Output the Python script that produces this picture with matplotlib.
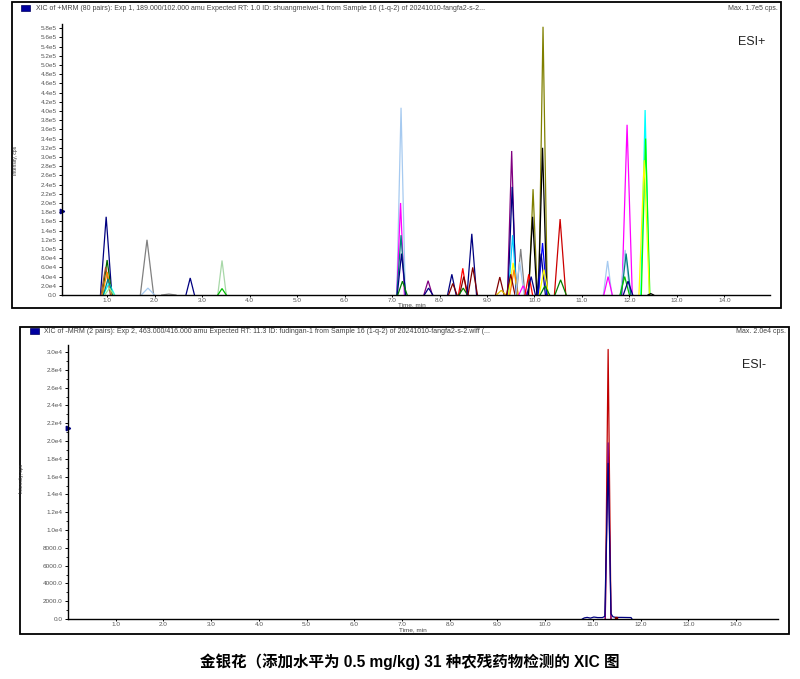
import matplotlib
matplotlib.use("Agg")
import matplotlib.pyplot as plt
from matplotlib.patches import Rectangle

W, H = 800, 679

# ---------------- data ----------------
x_ticks = [1.0, 2.0, 3.0, 4.0, 5.0, 6.0, 7.0, 8.0, 9.0, 10.0, 11.0, 12.0, 13.0, 14.0]

top_rt = [0.98, 1.00, 0.97, 1.00, 1.04, 1.02, 1.05,
          1.84, 1.86, 2.30, 2.75, 3.42, 3.42,
          7.19, 7.18, 7.19, 7.20, 7.22,
          7.76, 7.77, 8.26, 8.28, 8.49, 8.51, 8.50, 8.68, 8.70,
          9.27, 9.30, 9.52, 9.53, 9.54, 9.55, 9.57, 9.50,
          9.71, 9.69, 9.76, 9.97, 9.96, 9.88, 9.93,
          10.18, 10.17, 10.17, 10.14, 10.20, 10.22,
          10.54, 10.55, 11.54, 11.55, 11.95, 11.91, 11.93, 11.90, 11.97,
          12.33, 12.34, 12.31, 12.45]
top_height = [1.70e5, 0.76e5, 0.61e5, 0.50e5, 0.26e5, 0.35e5, 0.15e5,
              1.20e5, 0.15e5, 0.02e5, 0.37e5, 0.75e5, 0.14e5,
              4.07e5, 2.00e5, 1.30e5, 0.90e5, 0.30e5,
              0.31e5, 0.15e5, 0.45e5, 0.25e5, 0.58e5, 0.40e5, 0.15e5, 1.33e5, 0.60e5,
              0.39e5, 0.10e5, 3.13e5, 2.35e5, 1.30e5, 0.70e5, 0.55e5, 0.45e5,
              1.00e5, 0.72e5, 0.20e5, 2.30e5, 1.70e5, 0.45e5, 0.40e5,
              5.83e5, 3.20e5, 1.13e5, 0.90e5, 0.55e5, 0.20e5,
              1.65e5, 0.33e5, 0.74e5, 0.40e5, 3.70e5, 0.98e5, 0.90e5, 0.40e5, 0.30e5,
              4.02e5, 3.40e5, 2.93e5, 0.03e5]
top_halfwidth = [0.12, 0.10, 0.10, 0.10, 0.12, 0.10, 0.10,
                 0.14, 0.14, 0.15, 0.09, 0.09, 0.09,
                 0.09, 0.08, 0.09, 0.09, 0.10,
                 0.09, 0.09, 0.09, 0.09, 0.09, 0.09, 0.09, 0.10, 0.10,
                 0.09, 0.10, 0.09, 0.09, 0.09, 0.10, 0.09, 0.09,
                 0.09, 0.09, 0.09, 0.09, 0.09, 0.08, 0.09,
                 0.09, 0.09, 0.09, 0.09, 0.10, 0.10,
                 0.12, 0.12, 0.09, 0.09, 0.11, 0.10, 0.10, 0.10, 0.10,
                 0.09, 0.09, 0.11, 0.06]
top_color = ["#000080", "#006400", "#A0522D", "#FF8C00", "#00FFFF", "#008080", "#90EE90",
             "#808080", "#A6CAF0", "#808080", "#000080", "#A8D8A8", "#00C000",
             "#A6CAF0", "#FF00FF", "#008080", "#000080", "#008000",
             "#800080", "#000080", "#000080", "#800000", "#FF0000", "#800000", "#008000", "#000080", "#800000",
             "#800000", "#E0C000", "#800080", "#000080", "#00CCFF", "#FFFF00", "#FF8000", "#800000",
             "#808080", "#A6CAF0", "#FF00FF", "#808000", "#000000", "#FF0000", "#000080",
             "#808000", "#000000", "#0000FF", "#000080", "#FFFF00", "#008000",
             "#CC0000", "#008000", "#A6CAF0", "#FF00FF", "#FF00FF", "#A6CAF0", "#008080", "#00C000", "#000080",
             "#00FFFF", "#00FF00", "#FFFF00", "#000000"]

top_yticks = [0, 2e4, 4e4, 6e4, 8e4, 1.0e5, 1.2e5, 1.4e5, 1.6e5, 1.8e5, 2.0e5, 2.2e5, 2.4e5,
              2.6e5, 2.8e5, 3.0e5, 3.2e5, 3.4e5, 3.6e5, 3.8e5, 4.0e5, 4.2e5, 4.4e5, 4.6e5,
              4.8e5, 5.0e5, 5.2e5, 5.4e5, 5.6e5, 5.8e5]

bot_rt = [11.32, 11.32]
bot_height = [3.03e4, 1.98e4]
bot_halfwidth = [0.06, 0.06]
bot_color = ["#C00000", "#800080"]
navy_t = [10.78, 10.82, 10.88, 10.95, 11.02, 11.10, 11.20, 11.25, 11.32, 11.38, 11.42, 11.48, 11.60, 11.80, 11.82]
navy_v = [0, 120, 180, 100, 220, 160, 160, 300, 17500, 600, 250, 180, 180, 160, 0]
bot_yticks = [0, 2000, 4000, 6000, 8000, 1.0e4, 1.2e4, 1.4e4, 1.6e4, 1.8e4, 2.0e4,
              2.2e4, 2.4e4, 2.6e4, 2.8e4, 3.0e4]

header_top = ("XIC of +MRM (80 pairs): Exp 1, 189.000/102.000 amu Expected RT: 1.0 ID: "
              "shuangmeiwei-1 from Sample 16 (1-q-2) of 20241010-fangfa2-s-2...")
header_bot = ("XIC of -MRM (2 pairs): Exp 2, 463.000/416.000 amu Expected RT: 11.3 ID: "
              "fudingan-1 from Sample 16 (1-q-2) of 20241010-fangfa2-s-2.wiff (...")
caption = "金银花（添加水平为 0.5 mg/kg) 31 种农残药物检测的 XIC 图"


def ytick_label(v):
    if v == 0:
        return "0.0"
    if v < 1e4:
        return f"{v:.1f}"
    if v < 1e5:
        return f"{v / 1e4:.1f}e4"
    return f"{v / 1e5:.1f}e5"


def rect(x0, y0, x1, y1):
    return [x0 / W, 1 - y1 / H, (x1 - x0) / W, (y1 - y0) / H]


plt.rcParams['font.family'] = ['Liberation Sans', 'DejaVu Sans']
fig = plt.figure(figsize=(W / 100, H / 100), dpi=100)
fig.patch.set_facecolor("white")

tick_col = "#555555"


def style_axes(ax, xlim, ylim, yticks):
    ax.set_xlim(*xlim)
    ax.set_ylim(*ylim)
    for s in ("top", "right"):
        ax.spines[s].set_visible(False)
    for s in ("left", "bottom"):
        ax.spines[s].set_linewidth(1.0)
    ax.set_xticks(x_ticks)
    ax.set_xticklabels([f"{v:.1f}" for v in x_ticks])
    ax.set_yticks(yticks)
    ax.set_yticklabels([ytick_label(v) for v in yticks])
    ax.tick_params(axis="both", labelsize=4.6, labelcolor=tick_col, length=2.5,
                   width=0.7, pad=1.5, direction="out")
    ax.tick_params(axis="x", length=1.2, pad=1.3)


# ---------------- top panel ----------------
ax1 = fig.add_axes(rect(62, 24, 770, 295))
for rt, h, w, c in zip(top_rt, top_height, top_halfwidth, top_color):
    ax1.plot([rt - w, rt, rt + w], [0, h, 0], color=c, lw=0.9, solid_joinstyle="miter")
style_axes(ax1, (0.05, 14.96), (0, 5.89e5), top_yticks)
ax1.plot([0.05], [1.82e5], marker=">", color="#000080", ms=3.2, clip_on=False)

# ---------------- bottom panel ----------------
ax2 = fig.add_axes(rect(68, 345, 778, 619))
for rt, h, w, c in zip(bot_rt, bot_height, bot_halfwidth, bot_color):
    ax2.plot([rt - w, rt, rt + w], [0, h, 0], color=c, lw=0.9)
ax2.plot(navy_t, navy_v, color="#000080", lw=0.9)
ax2.plot([11.48], [100], marker="s", color="#800000", ms=1.5)
style_axes(ax2, (0.0, 14.88), (0, 3.08e4), bot_yticks)
ax2.set_yticks([v + 1000 for v in bot_yticks[:-1]], minor=True)
ax2.tick_params(axis="y", which="minor", length=1.5, width=0.6)
ax2.plot([0.0], [2.15e4], marker=">", color="#000080", ms=3.2, clip_on=False)

# ---------------- frame decorations ----------------
def fig_text(x, y, s, **kw):
    fig.text(x / W, 1 - y / H, s, **kw)


fig_text(765, 42, "ESI+", fontsize=9, color="#222222", ha="right", va="center")
fig_text(766, 365, "ESI-", fontsize=9, color="#222222", ha="right", va="center")

fig_text(412, 304.5, "Time, min", fontsize=4.6, color="#444444", ha="center", va="center")
fig_text(413, 629.5, "Time, min", fontsize=4.6, color="#444444", ha="center", va="center")
fig_text(15, 160, "Intensity, cps", fontsize=3.6, color="#333333", rotation=90,
         ha="center", va="center")
fig_text(22, 478, "Intensity, cps", fontsize=3.6, color="#333333", rotation=90,
         ha="center", va="center")

fig_text(36, 8, header_top, fontsize=5.0, color="#444444", ha="left", va="center")
fig_text(778, 8, "Max. 1.7e5 cps.", fontsize=5.0, color="#444444", ha="right", va="center")
fig_text(44, 331, header_bot, fontsize=5.0, color="#444444", ha="left", va="center")
fig_text(786, 331, "Max. 2.0e4 cps.", fontsize=5.0, color="#444444", ha="right", va="center")

fig.add_artist(Rectangle((21 / W, 1 - 11 / H), 9 / W, 6 / H, transform=fig.transFigure,
                         facecolor="#0000A0", edgecolor="#000060", lw=0.5))
fig.add_artist(Rectangle((30 / W, 1 - 334 / H), 9 / W, 6 / H, transform=fig.transFigure,
                         facecolor="#0000A0", edgecolor="#000060", lw=0.5))

fig.add_artist(Rectangle((12 / W, 1 - 308 / H), (781 - 12) / W, (308 - 2) / H,
                         transform=fig.transFigure, fill=False, edgecolor="black", lw=1.3))
fig.add_artist(Rectangle((20 / W, 1 - 634 / H), (789 - 20) / W, (634 - 327) / H,
                         transform=fig.transFigure, fill=False, edgecolor="black", lw=1.3))

fig_text(410, 662, caption, fontsize=11.2, fontweight="bold", color="black",
         ha="center", va="center", family=["Liberation Sans", "Noto Sans CJK SC"])

fig.savefig("out.png", dpi=100, facecolor="white")
